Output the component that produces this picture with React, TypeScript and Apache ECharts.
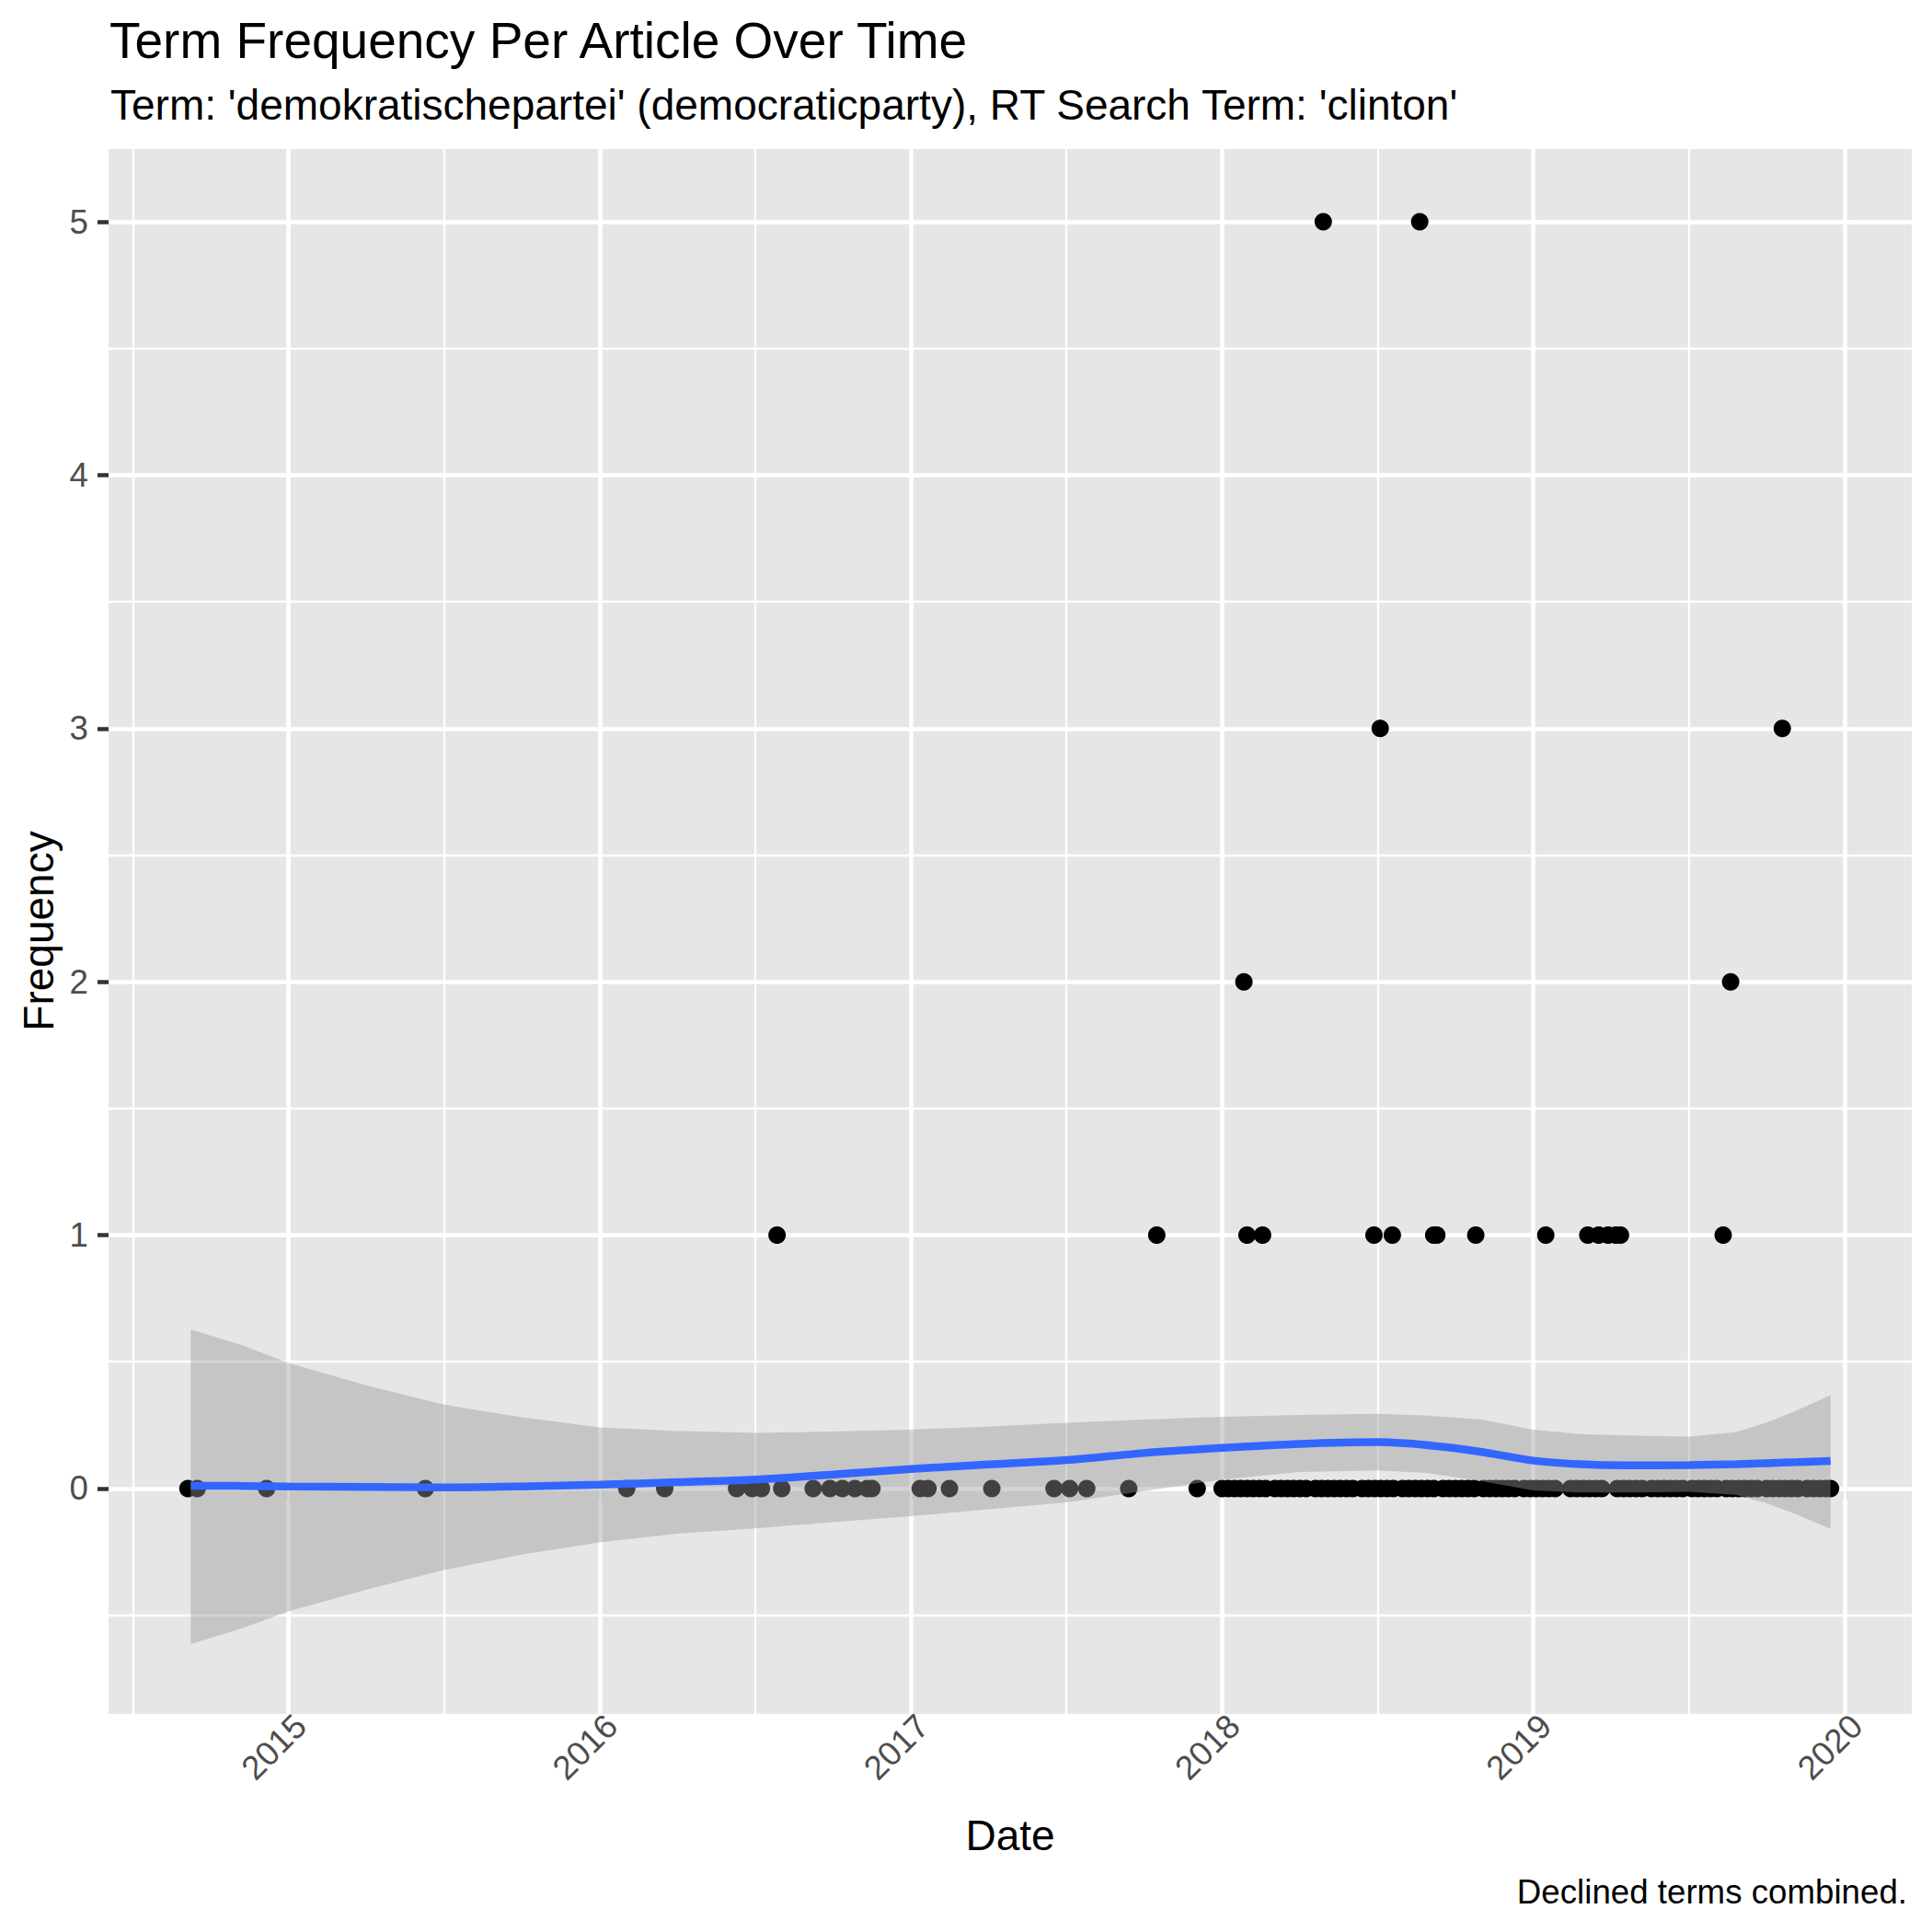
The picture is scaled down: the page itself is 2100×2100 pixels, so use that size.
import { useEffect, useRef } from "react";
import * as echarts from "echarts";

// article dates as decimal years, grouped by term frequency
const freq0Years = [
  2014.677, 2014.707, 2014.93, 2015.44, 2016.087, 2016.209, 2016.44, 2016.49,
  2016.52, 2016.585, 2016.686, 2016.74, 2016.78, 2016.82, 2016.86, 2016.875,
  2017.03, 2017.055, 2017.124, 2017.26, 2017.46, 2017.51, 2017.565, 2017.7,
  2017.92, 2018.0, 2018.02, 2018.04, 2018.06, 2018.08, 2018.1, 2018.12,
  2018.14, 2018.17, 2018.19, 2018.21, 2018.23, 2018.25, 2018.27, 2018.3,
  2018.32, 2018.34, 2018.36, 2018.38, 2018.4, 2018.42, 2018.45, 2018.47,
  2018.49, 2018.51, 2018.53, 2018.55, 2018.58, 2018.6, 2018.62, 2018.64,
  2018.66, 2018.68, 2018.71, 2018.73, 2018.75, 2018.77, 2018.79, 2018.81,
  2018.84, 2018.86, 2018.88, 2018.9, 2018.92, 2018.94, 2018.97, 2018.99,
  2019.01, 2019.03, 2019.05, 2019.07, 2019.12, 2019.14, 2019.16, 2019.18,
  2019.2, 2019.22, 2019.27, 2019.29, 2019.31, 2019.33, 2019.35, 2019.38,
  2019.4, 2019.42, 2019.44, 2019.46, 2019.48, 2019.51, 2019.53, 2019.55,
  2019.57, 2019.59, 2019.62, 2019.64, 2019.66, 2019.68, 2019.7, 2019.72,
  2019.75, 2019.77, 2019.79, 2019.81, 2019.83, 2019.85, 2019.88, 2019.9,
  2019.92, 2019.94, 2019.955,
];
const freq1Years = [
  2016.57, 2017.79, 2018.08, 2018.13, 2018.488, 2018.547, 2018.68, 2018.69,
  2018.815, 2019.04, 2019.175, 2019.21, 2019.24, 2019.265, 2019.28, 2019.61,
];
const freq2Years = [2018.07, 2019.634];
const freq3Years = [2018.508, 2019.8];
const freq5Years = [2018.325, 2018.635];

// loess fit and its confidence band
const smoothX = [
  2014.686, 2014.85, 2015.0, 2015.25, 2015.5, 2015.75, 2016.0, 2016.25, 2016.5,
  2016.75, 2017.0, 2017.25, 2017.5, 2017.75, 2018.0, 2018.25, 2018.5, 2018.65,
  2018.83, 2019.0, 2019.15, 2019.3, 2019.5, 2019.65, 2019.75, 2019.85, 2019.955,
];
const smoothFit = [
  0.011, 0.01, 0.008, 0.006, 0.004, 0.008, 0.015, 0.025, 0.035, 0.055, 0.077,
  0.095, 0.112, 0.14, 0.16, 0.176, 0.183, 0.172, 0.145, 0.11, 0.096, 0.091,
  0.092, 0.096, 0.1, 0.104, 0.109,
];
const bandUpper = [
  0.628, 0.566, 0.495, 0.407, 0.331, 0.281, 0.241, 0.227, 0.219, 0.225, 0.232,
  0.245, 0.259, 0.272, 0.283, 0.29, 0.295, 0.288, 0.273, 0.232, 0.215, 0.209,
  0.205, 0.222, 0.26, 0.31, 0.368,
];
const bandLower = [
  -0.614, -0.552, -0.485, -0.4, -0.322, -0.261, -0.213, -0.178, -0.157, -0.133,
  -0.109, -0.082, -0.055, -0.01, 0.035, 0.065, 0.071, 0.062, 0.03, -0.008,
  -0.016, -0.016, -0.013, -0.025, -0.058, -0.105, -0.159,
];

const yearTicks = [2015, 2016, 2017, 2018, 2019, 2020];
const yearMinor = [2014.5, 2015.5, 2016.5, 2017.5, 2018.5, 2019.5];
const freqTicks = [0, 1, 2, 3, 4, 5];
const freqMinor = [-0.5, 0.5, 1.5, 2.5, 3.5, 4.5];

const FONT = '"Liberation Sans", Arial, Helvetica, sans-serif';

export default function App() {
  const ref = useRef<HTMLDivElement>(null);

  useEffect(() => {
    if (!ref.current) return;
    document.body.style.margin = "0";
    const chart = echarts.init(ref.current, null, { renderer: "svg" });

    const points = [
      ...freq0Years.map((x) => [x, 0]),
      ...freq1Years.map((x) => [x, 1]),
      ...freq2Years.map((x) => [x, 2]),
      ...freq3Years.map((x) => [x, 3]),
      ...freq5Years.map((x) => [x, 5]),
    ];

    const major = { color: "#FFFFFF", width: 4.6, type: "solid" };
    const minor = { color: "#FFFFFF", width: 2.3, type: "solid" };
    const gridLines = [
      ...yearMinor.map((v) => ({ xAxis: v, lineStyle: minor })),
      ...yearTicks.map((v) => ({ xAxis: v, lineStyle: major })),
      ...freqMinor.map((v) => ({ yAxis: v, lineStyle: minor })),
      ...freqTicks.map((v) => ({ yAxis: v, lineStyle: major })),
    ];

    chart.setOption({
      animation: false,
      backgroundColor: "#FFFFFF",
      textStyle: { fontFamily: FONT },
      grid: {
        left: 118,
        top: 162,
        width: 1960,
        height: 1701,
        show: true,
        backgroundColor: "#E6E6E6",
        borderWidth: 0,
      },
      xAxis: {
        type: "value",
        min: 2014.422,
        max: 2020.216,
        axisLine: { show: false },
        splitLine: { show: false },
        axisTick: {
          show: true,
          length: 12,
          customValues: yearTicks,
          lineStyle: { color: "#333333", width: 4.5 },
        },
        axisLabel: {
          customValues: yearTicks,
          formatter: (v: number) => String(Math.round(v)),
          rotate: 45,
          verticalAlign: "top",
          margin: -6,
          fontSize: 36.7,
          color: "#4D4D4D",
          fontFamily: FONT,
        },
      },
      yAxis: {
        type: "value",
        min: -0.89,
        max: 5.287,
        axisLine: { show: false },
        splitLine: { show: false },
        axisTick: {
          show: true,
          length: 12,
          customValues: freqTicks,
          lineStyle: { color: "#333333", width: 4.5 },
        },
        axisLabel: {
          customValues: freqTicks,
          formatter: (v: number) => String(Math.round(v)),
          margin: 22,
          fontSize: 36.7,
          color: "#4D4D4D",
          fontFamily: FONT,
        },
      },
      graphic: [
        {
          type: "text",
          x: 119,
          y: 44,
          style: {
            text: "Term Frequency Per Article Over Time",
            fontSize: 55,
            fontFamily: FONT,
            fill: "#000000",
            align: "left",
            verticalAlign: "middle",
          },
        },
        {
          type: "text",
          x: 120,
          y: 114,
          style: {
            text: "Term: 'demokratischepartei' (democraticparty), RT Search Term: 'clinton'",
            fontSize: 46,
            fontFamily: FONT,
            fill: "#000000",
            align: "left",
            verticalAlign: "middle",
          },
        },
        {
          type: "text",
          x: 1098,
          y: 1995,
          style: {
            text: "Date",
            fontSize: 46,
            fontFamily: FONT,
            fill: "#000000",
            align: "center",
            verticalAlign: "middle",
          },
        },
        {
          type: "text",
          x: 42,
          y: 1012,
          rotation: Math.PI / 2,
          style: {
            text: "Frequency",
            fontSize: 46,
            fontFamily: FONT,
            fill: "#000000",
            align: "center",
            verticalAlign: "middle",
          },
        },
        {
          type: "text",
          x: 2073,
          y: 2056,
          style: {
            text: "Declined terms combined.",
            fontSize: 36.7,
            fontFamily: FONT,
            fill: "#000000",
            align: "right",
            verticalAlign: "middle",
          },
        },
      ],
      series: [
        {
          type: "scatter",
          z: 2,
          data: points,
          symbolSize: 19,
          itemStyle: { color: "#000000", opacity: 1 },
          silent: true,
          markLine: {
            z: 1,
            silent: true,
            symbol: ["none", "none"],
            label: { show: false },
            data: gridLines,
          },
        },
        {
          type: "custom",
          z: 3,
          silent: true,
          data: smoothX.map((x, i) => [x, bandLower[i], bandUpper[i]]),
          encode: { x: 0, y: [1, 2] },
          renderItem: (params: any, api: any) => {
            if (params.dataIndex !== 0) return null;
            const top = smoothX.map((x, i) => api.coord([x, bandUpper[i]]));
            const bottom = smoothX
              .map((x, i) => api.coord([x, bandLower[i]]))
              .reverse();
            return {
              type: "polygon",
              shape: { points: [...top, ...bottom] },
              style: { fill: "rgba(153,153,153,0.42)" },
            };
          },
        },
        {
          type: "line",
          z: 4,
          silent: true,
          data: smoothX.map((x, i) => [x, smoothFit[i]]),
          smooth: 0.3,
          showSymbol: false,
          symbol: "none",
          lineStyle: { color: "#3366FF", width: 8.5 },
        },
      ],
    });

    return () => {
      chart.dispose();
    };
  }, []);

  return <div ref={ref} style={{ width: 2100, height: 2100 }} />;
}
